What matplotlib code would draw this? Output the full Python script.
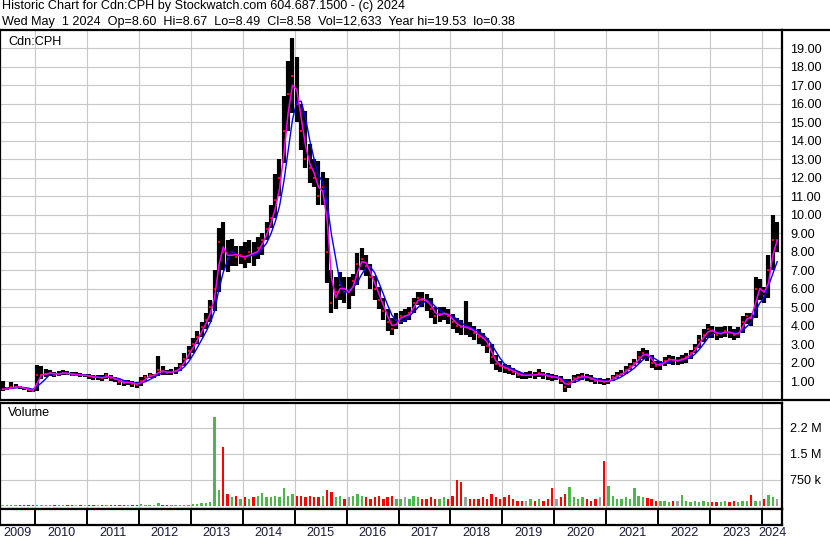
import numpy as np
import pandas as pd
import matplotlib
matplotlib.use('Agg')
import matplotlib.pyplot as plt
from matplotlib.transforms import blended_transform_factory

plt.rcParams['font.family'] = ['Liberation Sans', 'DejaVu Sans']

# monthly bars, May 2009 .. Apr 2024
start_year, start_month = 2009, 5
closes = [
    0.55, 0.60, 0.65, 0.70, 0.65, 0.60, 0.50, 0.45,                        # 2009
    1.30, 1.35, 1.40, 1.45, 1.35, 1.40, 1.45, 1.40, 1.35, 1.35, 1.30, 1.30,  # 2010
    1.25, 1.20, 1.20, 1.15, 1.30, 1.15, 1.10, 0.95, 0.90, 0.95, 0.85, 0.80,  # 2011
    1.00, 1.20, 1.30, 1.30, 1.60, 1.50, 1.45, 1.50, 1.55, 1.80, 2.20, 2.60,  # 2012
    3.00, 3.40, 3.90, 4.30, 5.00, 6.00, 8.50, 8.00, 7.60, 8.00, 7.70, 7.80,  # 2013
    7.60, 8.00, 7.80, 8.20, 8.60, 9.20, 9.80, 10.8, 12.0, 14.5, 16.5, 17.5,  # 2014
    16.0, 14.5, 13.0, 12.5, 12.0, 11.0, 11.5, 8.00, 5.20, 5.80, 6.20, 5.80,  # 2015
    5.80, 6.40, 7.30, 7.60, 7.20, 6.60, 6.00, 5.40, 4.80, 4.20, 3.80, 4.30,  # 2016
    4.50, 4.50, 4.70, 5.20, 5.50, 5.40, 5.30, 4.90, 4.50, 4.60, 4.70, 4.50,  # 2017
    4.20, 4.00, 3.90, 3.90, 3.80, 3.60, 3.40, 3.30, 2.90, 2.30, 1.90, 1.80,  # 2018
    1.70, 1.60, 1.50, 1.35, 1.30, 1.30, 1.35, 1.30, 1.45, 1.30, 1.25, 1.20,  # 2019
    1.20, 1.00, 0.70, 0.95, 1.15, 1.20, 1.25, 1.20, 1.10, 1.00, 1.00, 0.95,  # 2020
    1.00, 1.20, 1.30, 1.40, 1.60, 1.80, 2.00, 2.30, 2.50, 2.40, 2.00, 1.80,  # 2021
    1.90, 2.10, 2.20, 2.10, 2.10, 2.20, 2.30, 2.50, 2.80, 3.20, 3.50, 3.80,  # 2022
    3.70, 3.50, 3.60, 3.70, 3.60, 3.50, 3.60, 4.20, 4.50, 4.40, 6.00, 6.00,  # 2023
    5.60, 7.00, 8.60, 8.60,                                                # 2024
]
highs = [
    1.00, 0.70, 0.95, 0.85, 0.75, 0.70, 0.60, 0.55,
    1.85, 1.80, 1.65, 1.60, 1.50, 1.55, 1.60, 1.55, 1.50, 1.50, 1.45, 1.40,
    1.40, 1.35, 1.30, 1.30, 1.45, 1.30, 1.20, 1.10, 1.05, 1.05, 1.00, 0.95,
    1.20, 1.35, 1.45, 1.40, 2.35, 1.80, 1.60, 1.65, 1.75, 2.00, 2.50, 2.90,
    3.30, 3.70, 4.20, 4.70, 5.40, 7.00, 9.30, 9.60, 8.60, 8.70, 8.30, 8.30,
    8.50, 8.60, 8.50, 8.80, 9.00, 9.60, 10.5, 12.2, 13.0, 16.4, 18.3, 19.53,
    18.5, 16.0, 15.6, 13.8, 13.0, 12.9, 12.3, 12.0, 7.00, 6.60, 6.90, 6.60,
    6.60, 6.80, 7.90, 8.20, 7.80, 7.30, 6.70, 6.10, 5.50, 4.90, 4.40, 4.70,
    4.80, 4.90, 5.00, 5.50, 5.80, 5.80, 5.70, 5.50, 5.00, 5.00, 5.00, 4.90,
    4.60, 4.40, 4.30, 5.30, 4.20, 4.00, 3.80, 3.60, 3.30, 3.00, 2.40, 2.10,
    1.90, 1.85, 1.70, 1.55, 1.45, 1.50, 1.55, 1.50, 1.65, 1.50, 1.45, 1.40,
    1.35, 1.25, 1.10, 1.10, 1.35, 1.40, 1.45, 1.40, 1.30, 1.15, 1.15, 1.10,
    1.15, 1.35, 1.50, 1.60, 1.80, 2.00, 2.20, 2.60, 2.80, 2.70, 2.40, 2.10,
    2.10, 2.30, 2.40, 2.35, 2.30, 2.40, 2.50, 2.70, 3.00, 3.50, 3.80, 4.10,
    4.00, 3.90, 3.90, 4.00, 4.00, 3.80, 3.90, 4.50, 4.70, 4.70, 6.60, 6.50,
    6.10, 7.80, 10.0, 9.60,
]
lows = [
    0.45, 0.50, 0.55, 0.60, 0.55, 0.50, 0.42, 0.38,
    0.45, 1.10, 1.20, 1.25, 1.20, 1.25, 1.30, 1.30, 1.25, 1.25, 1.20, 1.20,
    1.10, 1.05, 1.05, 1.00, 1.10, 1.00, 0.95, 0.80, 0.75, 0.80, 0.70, 0.60,
    0.75, 1.00, 1.15, 1.15, 1.25, 1.35, 1.30, 1.35, 1.40, 1.55, 1.80, 2.20,
    2.50, 3.00, 3.40, 3.80, 4.20, 4.80, 5.80, 7.00, 6.90, 7.20, 7.20, 7.30,
    7.10, 7.40, 7.20, 7.60, 7.80, 8.60, 9.30, 9.80, 11.0, 12.8, 14.5, 15.5,
    15.0, 13.5, 12.5, 11.7, 11.5, 10.5, 10.5, 6.30, 4.70, 4.90, 5.40, 5.20,
    4.90, 5.60, 6.20, 7.00, 6.70, 6.00, 5.40, 4.90, 4.30, 3.70, 3.50, 3.80,
    4.10, 4.20, 4.30, 4.70, 5.10, 5.00, 4.80, 4.40, 4.10, 4.20, 4.30, 4.10,
    3.80, 3.60, 3.50, 3.50, 3.40, 3.20, 3.00, 2.90, 2.50, 1.90, 1.60, 1.50,
    1.45, 1.40, 1.30, 1.15, 1.10, 1.10, 1.15, 1.10, 1.20, 1.10, 1.05, 1.00,
    1.05, 0.85, 0.38, 0.60, 0.90, 1.05, 1.05, 1.00, 0.95, 0.85, 0.85, 0.80,
    0.85, 1.00, 1.15, 1.25, 1.40, 1.60, 1.80, 2.00, 2.20, 2.10, 1.70, 1.60,
    1.60, 1.80, 1.90, 1.85, 1.85, 1.90, 2.00, 2.20, 2.50, 2.80, 3.10, 3.30,
    3.30, 3.20, 3.30, 3.40, 3.30, 3.20, 3.30, 3.60, 4.10, 4.00, 4.40, 5.40,
    5.20, 5.50, 7.00, 8.00,
]
volumes_k = [
    20, 15, 20, 15, 15, 15, 20, 20,
    40, 20, 20, 15, 15, 15, 15, 15, 15, 15, 15, 15,
    15, 15, 15, 15, 20, 15, 15, 15, 15, 15, 15, 15,
    60, 25, 20, 20, 90, 30, 25, 25, 25, 25, 40, 40,
    60, 60, 80, 100, 120, 2560, 450, 1700, 350, 250, 300, 200,
    250, 200, 250, 300, 370, 250, 250, 300, 250, 520, 300, 350,
    300, 280, 250, 300, 250, 250, 300, 450, 400, 250, 300, 200,
    250, 300, 350, 300, 250, 200, 250, 300, 200, 250, 300, 200,
    200, 250, 200, 300, 250, 200, 200, 250, 200, 200, 250, 200,
    300, 750, 700, 250, 200, 200, 200, 250, 200, 350, 250, 200,
    250, 320, 200, 150, 150, 150, 200, 150, 200, 150, 200, 520,
    200, 250, 350, 550, 250, 200, 250, 200, 150, 200, 250, 1300,
    580, 300, 200, 200, 250, 200, 520, 300, 250, 230, 200, 150,
    150, 150, 120, 150, 150, 320, 150, 120, 150, 120, 150, 120,
    120, 120, 120, 150, 120, 150, 120, 150, 150, 320, 150, 150,
    200, 320, 250, 200,
]
price_ticks = list(range(1, 20))
vol_ticks = [750, 1500, 2250]
vol_tick_labels = ['750 k', '1.5 M', '2.2 M']
years = list(range(2009, 2025))

n = len(closes)
months = start_month - 1 + np.arange(n)
x = start_year + (months + 0.5) / 12.0
close_s = pd.Series(closes)
ma_fast = close_s.rolling(2, min_periods=1).mean()
ma_slow = close_s.rolling(4, min_periods=1).mean()
chg = close_s.diff().fillna(0).values
vol_colors = np.where(chg > 0, '#4cb84c', np.where(chg < 0, '#ff0000', '#a0a0a0'))

W, H = 830, 543
fig = plt.figure(figsize=(W / 100, H / 100), dpi=100)
x_left, x_right = 2009.326, 2024.385
right_frac = 782 / W

def box(top, bottom):
    return [0.0, 1 - bottom / H, right_frac, (bottom - top) / H]

grid_c = '#c8c8c8'
fs = 9.1
ax_p = fig.add_axes(box(30, 399.5))
ax_v = fig.add_axes(box(403, 509))
ax_d = fig.add_axes(box(509, 525))

for ax in (ax_p, ax_v, ax_d):
    ax.set_xlim(x_left, x_right)
    ax.set_xticks([])
    for s in ax.spines.values():
        s.set_linewidth(1.6)
        s.set_color('black')
    for yr in years[1:]:
        ax.axvline(yr, color=grid_c if ax is not ax_d else 'black',
                   lw=0.8 if ax is not ax_d else 1.4, zorder=0)

# price panel
ax_p.set_ylim(0, 19.98)
for p in price_ticks:
    ax_p.axhline(p, color=grid_c, lw=0.8, zorder=0)
ax_p.vlines(x, lows, highs, color='black', lw=3.0, zorder=2)
ax_p.plot(x, closes, ls='none', marker='s', ms=1.8, color='red', mew=0, zorder=3)
ax_p.plot(x, ma_slow, color='#0000ff', lw=1.0, zorder=4)
ax_p.plot(x, ma_fast, color='#ff00ff', lw=1.1, zorder=5)
ax_p.yaxis.tick_right()
ax_p.set_yticks(price_ticks)
ax_p.set_yticklabels(['%.2f' % p for p in price_ticks])
ax_p.tick_params(axis='y', length=0, pad=6, labelsize=fs)
ax_p.text(8 / 782, 1 - 12 / 369.5, 'Cdn:CPH', transform=ax_p.transAxes,
          fontsize=fs, va='center', ha='left')

# volume panel
ax_v.set_ylim(-87, 2971)
for v in vol_ticks:
    ax_v.axhline(v, color=grid_c, lw=0.8, zorder=0)
ax_v.bar(x, volumes_k, width=0.55 / 12, color=vol_colors, lw=0, zorder=2)
ax_v.yaxis.tick_right()
ax_v.set_yticks(vol_ticks)
ax_v.set_yticklabels(vol_tick_labels)
ax_v.tick_params(axis='y', length=0, pad=6, labelsize=fs)
ax_v.text(8 / 782, 1 - 10 / 106, 'Volume', transform=ax_v.transAxes,
          fontsize=fs, va='center', ha='left')

# date strip with year labels below
ax_d.set_yticks([])
ax_d.set_ylim(0, 1)
tr = blended_transform_factory(ax_d.transData, ax_d.transAxes)
for yr in years:
    lo = max(yr, x_left)
    hi = min(yr + 1, x_right)
    ax_d.text((lo + hi) / 2, -0.12, str(yr), transform=tr, ha='center',
              va='top', fontsize=fs, color='#1a1a40', clip_on=False)

# frame lines continuing into the label margin
for yy in (30, 400):
    fig.add_artist(plt.Line2D([right_frac, 1.0], [1 - yy / H] * 2,
                              color='black', lw=1.6, transform=fig.transFigure))

fig.text(0.002, 1 - 6 / H, 'Historic Chart for Cdn:CPH by Stockwatch.com 604.687.1500 - (c) 2024',
         fontsize=fs, va='center', ha='left')
fig.text(0.002, 1 - 21.5 / H,
         'Wed May  1 2024  Op=8.60  Hi=8.67  Lo=8.49  Cl=8.58  Vol=12,633  Year hi=19.53  lo=0.38',
         fontsize=fs, va='center', ha='left')

fig.savefig('out.png', dpi=100)
